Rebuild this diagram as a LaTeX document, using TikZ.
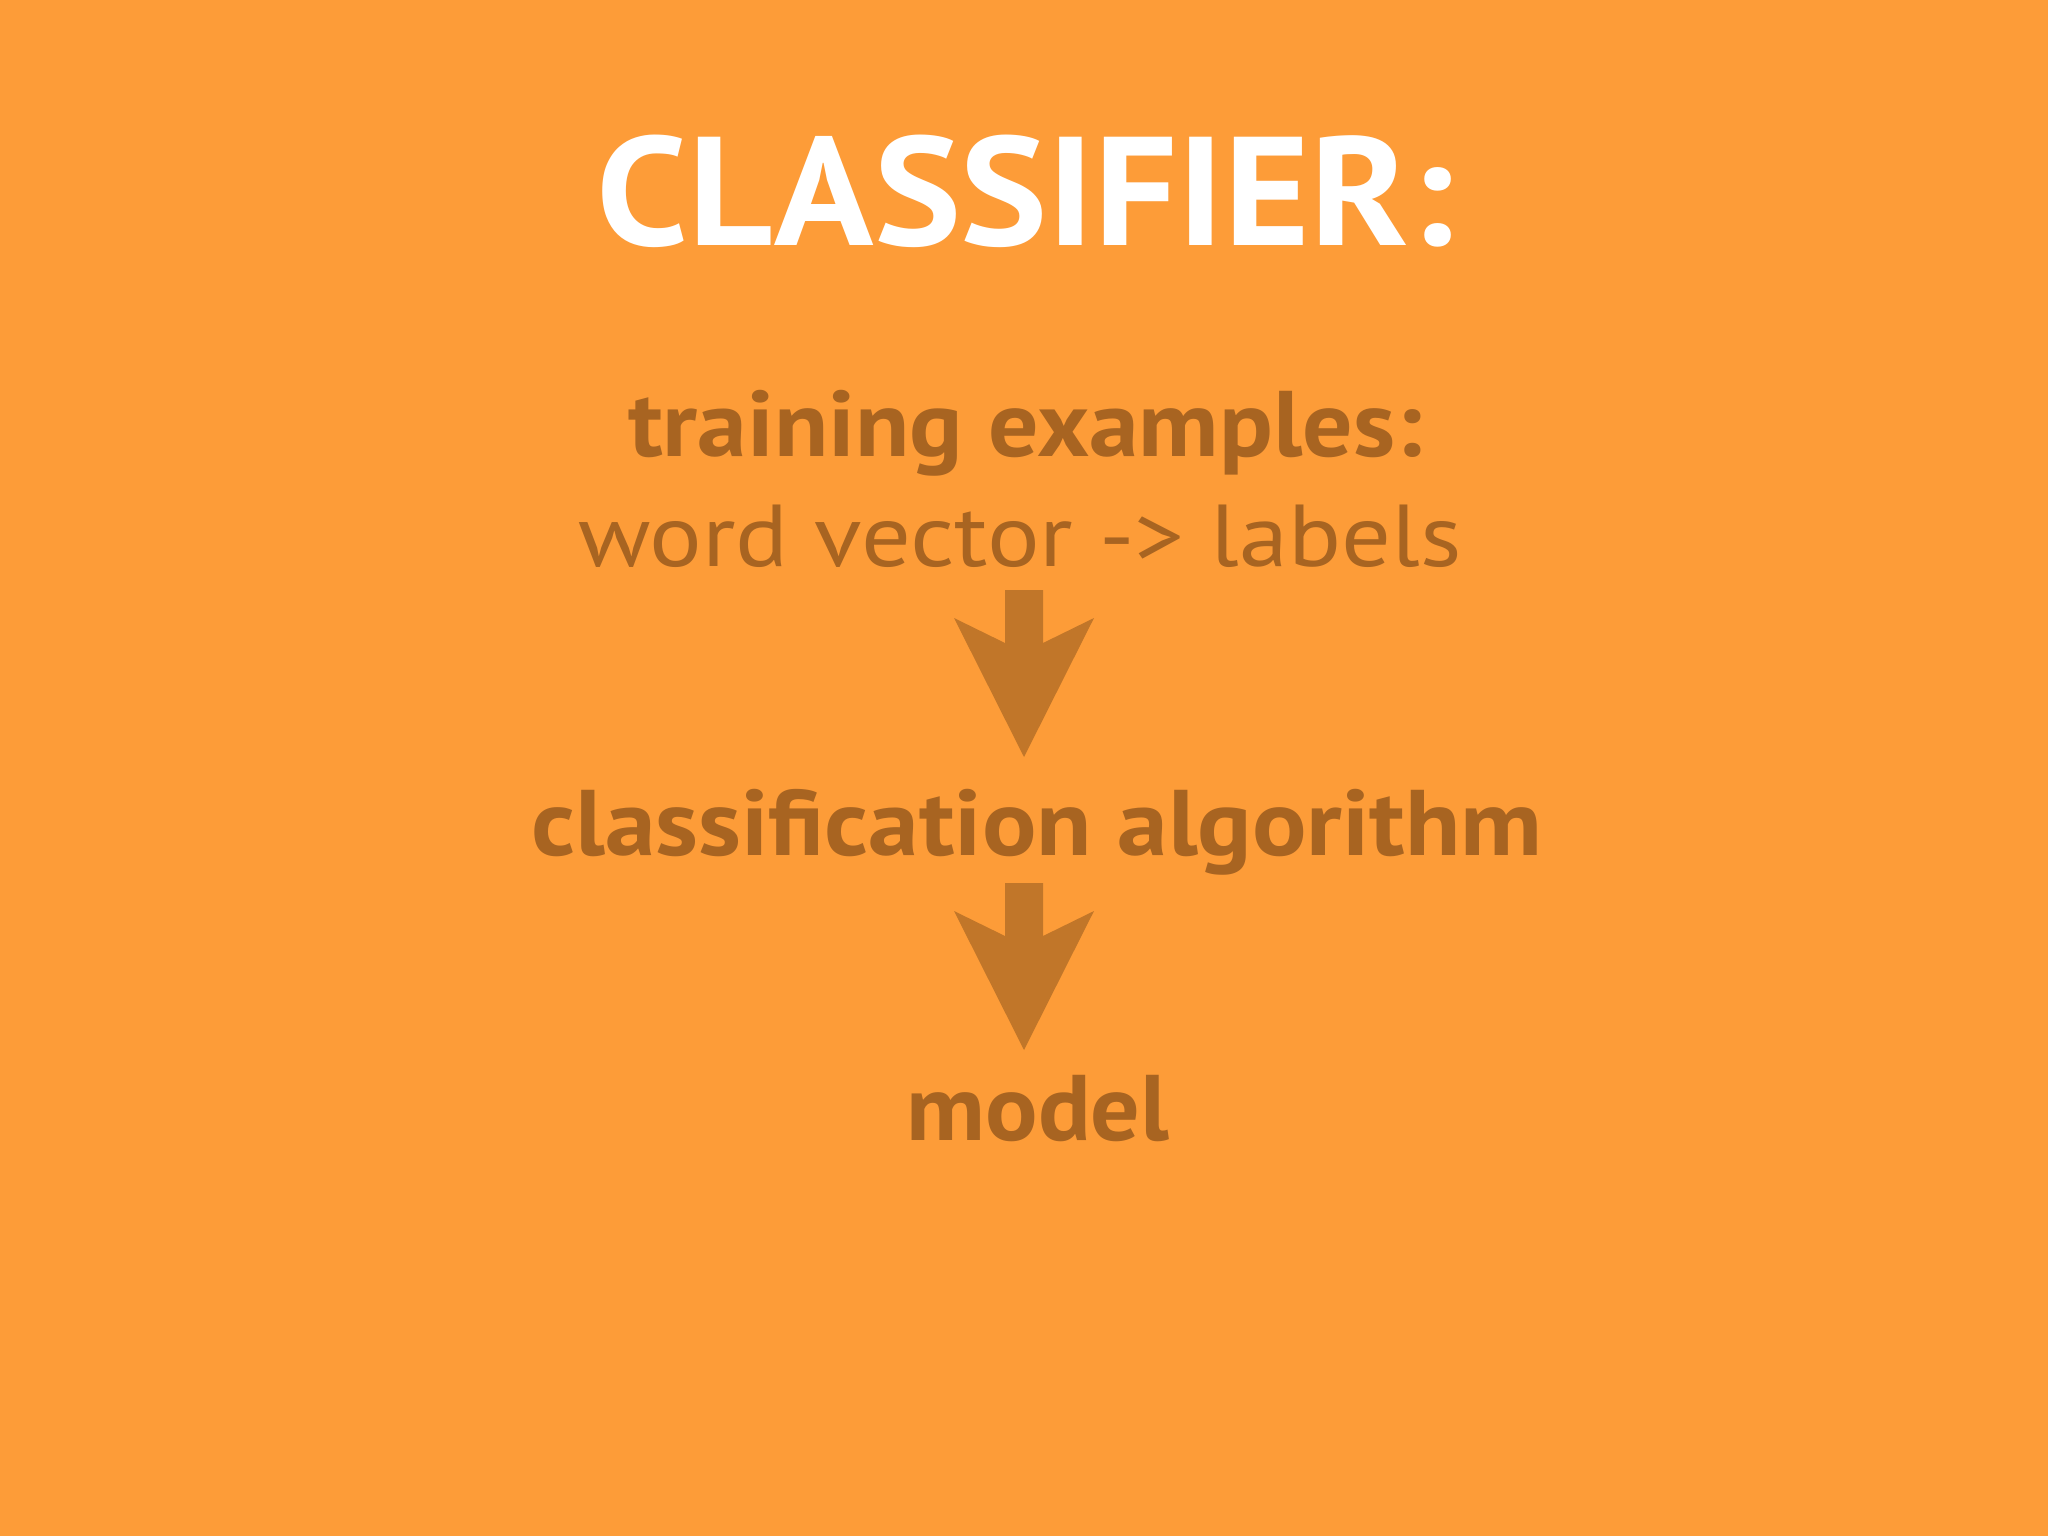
\documentclass[tikz,border=0pt]{standalone}
\usepackage{fontspec}
\setmainfont{PT Sans}
\usepackage{tikz}

\definecolor{slideorange}{RGB}{253,156,56}
\definecolor{textbrown}{RGB}{168,100,33}
\definecolor{arrowbrown}{RGB}{193,118,41}

\tikzset{
  headline/.style={anchor=base,text=white,font=\bfseries\fontsize{44}{48}\selectfont},
  boldline/.style={anchor=base,text=textbrown,font=\bfseries\fontsize{26.5}{30}\selectfont},
  plainline/.style={anchor=base,text=textbrown,font=\fontsize{25}{30}\selectfont},
  bigarrow/.pic={
    \fill[arrowbrown] (-19,0) -- (19,0) -- (19,53) -- (70,28) -- (0,167)
      -- (-70,28) -- (-19,53) -- cycle;
  }
}

\begin{document}
\begin{tikzpicture}[x=0.01cm,y=-0.01cm]
  \fill[slideorange] (0,0) rectangle (2048,1536);
  \useasboundingbox (0,0) rectangle (2048,1536);

  \node[headline,xscale=1.06]  (title) at (1025,245) {CLASSIFIER:};
  \node[boldline,xscale=1.07]  (train) at (1025,456) {training examples:};
  \node[plainline,xscale=1.12] (vec)   at (1020,566) {word vector -> labels};
  \node[boldline,xscale=1.09]  (algo)  at (1037,855) {classification algorithm};
  \node[boldline,xscale=1.05]  (model) at (1038,1140) {model};

  % arrows between the steps
  \coordinate (a1) at (1024,590);
  \coordinate (a2) at (1024,883);
  \pic at (a1) {bigarrow};
  \pic at (a2) {bigarrow};
\end{tikzpicture}
\end{document}
